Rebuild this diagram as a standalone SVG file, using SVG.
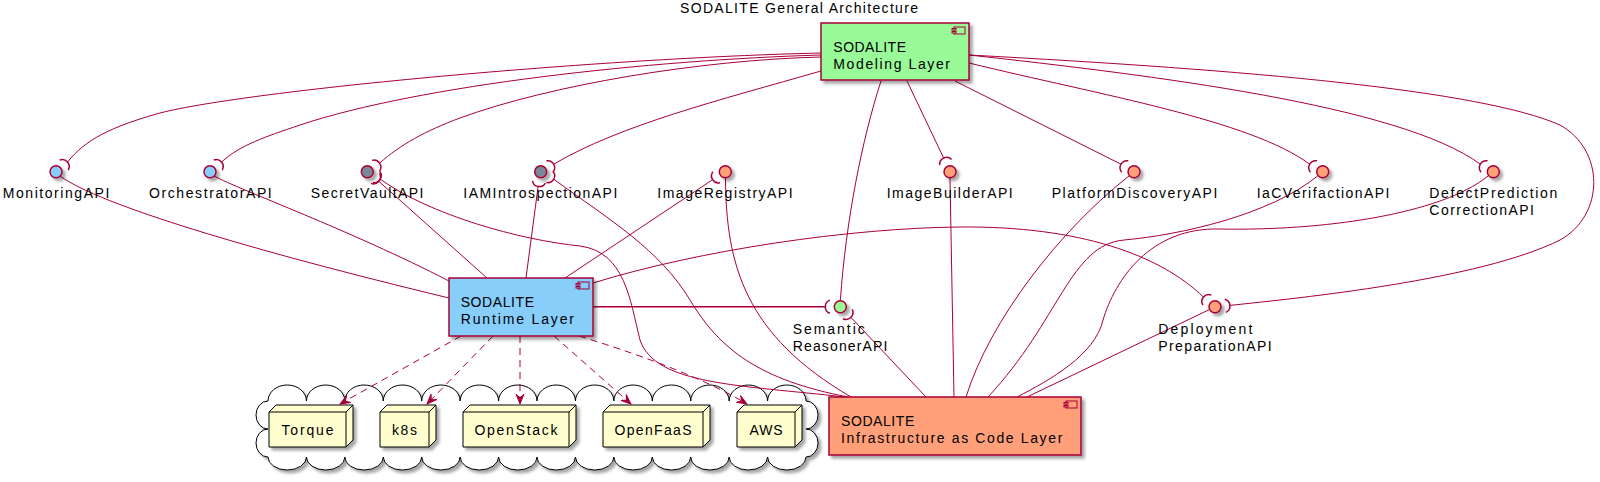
<svg xmlns="http://www.w3.org/2000/svg" xmlns:xlink="http://www.w3.org/1999/xlink" width="1600" height="482" viewBox="0 0 1600 482">
<defs>
<style>
.t{font-family:"Liberation Sans",Arial,sans-serif;font-size:14px;fill:#000}
.box{stroke:#A80036;stroke-width:1.5}
.ic{stroke:#A80036;stroke-width:1}
.ifc{stroke:#A80036;stroke-width:1.5}
.ln{fill:none;stroke:#A80036;stroke-width:1}
.dash{fill:none;stroke:#A80036;stroke-width:1;stroke-dasharray:7,5}
.sock{fill:none;stroke:#A80036;stroke-width:1.5}
.node{fill:#FEFECE;stroke:#000;stroke-width:1}
.nl{fill:none;stroke:#000;stroke-width:1}
.cloud{fill:#fff;stroke:#000;stroke-width:1}
</style>
<filter id="sh" filterUnits="userSpaceOnUse" x="0" y="0" width="1600" height="482">
<feGaussianBlur in="SourceAlpha" stdDeviation="1.8"/>
<feOffset dx="3" dy="3" result="o"/>
<feFlood flood-color="#000" flood-opacity="0.35"/>
<feComposite in2="o" operator="in"/>
<feMerge><feMergeNode/><feMergeNode in="SourceGraphic"/></feMerge>
</filter>
<marker id="ah" markerUnits="userSpaceOnUse" markerWidth="12" markerHeight="10" refX="10" refY="5" orient="auto" viewBox="0 0 12 10"><path d="M0,1 L10,5 L0,9 L4,5 Z" fill="#A80036" stroke="#A80036" stroke-width="1"/></marker>
<path id="sock" d="M10.394,-6.578 A7,7 0 0 1 10.394,6.578"/>
</defs>
<rect width="1600" height="482" fill="#fff"/>
<text class="t" x="680" y="13" textLength="238" lengthAdjust="spacing">SODALITE General Architecture</text>

<g id="cloud">
<path class="cloud" filter="url(#sh)" d="M268,401 a19.215,16 0 0 1 38.43,0 a19.215,16 0 0 1 38.43,0 a19.215,16 0 0 1 38.43,0 a19.215,16 0 0 1 38.43,0 a19.215,16 0 0 1 38.43,0 a19.215,16 0 0 1 38.43,0 a19.215,16 0 0 1 38.43,0 a19.215,16 0 0 1 38.43,0 a19.215,16 0 0 1 38.43,0 a19.215,16 0 0 1 38.43,0 a19.215,16 0 0 1 38.43,0 a19.215,16 0 0 1 38.43,0 a19.215,16 0 0 1 38.43,0 a19.215,16 0 0 1 38.43,0 a12,14 0 0 1 0,28 a12,14 0 0 1 0,28 a19.215,13 0 0 1 -38.43,0 a19.215,13 0 0 1 -38.43,0 a19.215,13 0 0 1 -38.43,0 a19.215,13 0 0 1 -38.43,0 a19.215,13 0 0 1 -38.43,0 a19.215,13 0 0 1 -38.43,0 a19.215,13 0 0 1 -38.43,0 a19.215,13 0 0 1 -38.43,0 a19.215,13 0 0 1 -38.43,0 a19.215,13 0 0 1 -38.43,0 a19.215,13 0 0 1 -38.43,0 a19.215,13 0 0 1 -38.43,0 a19.215,13 0 0 1 -38.43,0 a19.215,13 0 0 1 -38.43,0 a12,14 0 0 1 0,-28 a12,14 0 0 1 0,-28 Z"/>
</g>

<g id="node-torque">
<path class="node" filter="url(#sh)" d="M269,412 L276,405 L353,405 L353,440 L346,447 L269,447 Z"/>
<path class="nl" d="M269,412 L346,412 L353,405 M346,412 L346,447"/>
<text class="t" x="307.5" y="435" text-anchor="middle" textLength="52" lengthAdjust="spacing">Torque</text>
</g>
<g id="node-k8s">
<path class="node" filter="url(#sh)" d="M380,412 L387,405 L436,405 L436,440 L429,447 L380,447 Z"/>
<path class="nl" d="M380,412 L429,412 L436,405 M429,412 L429,447"/>
<text class="t" x="404.5" y="435" text-anchor="middle" textLength="25" lengthAdjust="spacing">k8s</text>
</g>
<g id="node-openstack">
<path class="node" filter="url(#sh)" d="M463,412 L470,405 L576,405 L576,440 L569,447 L463,447 Z"/>
<path class="nl" d="M463,412 L569,412 L576,405 M569,412 L569,447"/>
<text class="t" x="516" y="435" text-anchor="middle" textLength="83" lengthAdjust="spacing">OpenStack</text>
</g>
<g id="node-openfaas">
<path class="node" filter="url(#sh)" d="M603,412 L610,405 L710,405 L710,440 L703,447 L603,447 Z"/>
<path class="nl" d="M603,412 L703,412 L710,405 M703,412 L703,447"/>
<text class="t" x="653" y="435" text-anchor="middle" textLength="77" lengthAdjust="spacing">OpenFaaS</text>
</g>
<g id="node-aws">
<path class="node" filter="url(#sh)" d="M737,412 L744,405 L802,405 L802,440 L795,447 L737,447 Z"/>
<path class="nl" d="M737,412 L795,412 L802,405 M795,412 L795,447"/>
<text class="t" x="766" y="435" text-anchor="middle" textLength="33" lengthAdjust="spacing">AWS</text>
</g>

<g id="connectors">
<path class="ln" d="M821,53 C600,58 250,90 160,113 C110,127 85,140 67.5,162.1"/>
<path class="ln" d="M821,55 C650,60 420,85 300,125 C265,137 240,145 221.5,162.1"/>
<path class="ln" d="M821,57 C700,60 550,85 460,118 C425,131 400,145 379.6,163.1"/>
<path class="ln" d="M821,71 C720,100 620,125 553.7,164.2"/>
<path class="ln" d="M907,81 L943.7,158.1"/>
<path class="ln" d="M955,81 L1121,164.2"/>
<path class="ln" d="M969,63 C1100,95 1250,120 1309.7,164.2"/>
<path class="ln" d="M969,55 C1150,75 1400,105 1480.3,164.2"/>
<path class="ln" d="M881,81 C862,140 846,220 840.3,300.7"/>
<path class="ln" d="M969,55 C1250,70 1480,90 1560,125 C1605,150 1605,215 1560,240 C1480,280 1300,298 1229.9,305.4"/>
<path class="ln" d="M60,176 C100,205 250,250 449,298"/>
<path class="ln" d="M214,176 C240,190 350,230 449,281"/>
<path class="ln" d="M378.8,181.3 L487,278"/>
<path class="ln" d="M538.1,186.5 L526,278"/>
<path class="ln" d="M712.6,179.7 L565,278"/>
<path class="ln" style="stroke-width:1.5" d="M593,306.7 L825.3,306.7"/>
<path class="ln" d="M593,283 C700,250 850,228 960,227 C1080,226 1160,255 1203.5,297.1"/>
<path class="ln" d="M380.3,179.2 C430,215 520,240 580,246 C625,252 630,300 640,340 C655,385 740,385 845,397"/>
<path class="ln" d="M553.7,179.2 C610,220 660,250 690,300 C720,350 760,380 848,397"/>
<path class="ln" d="M725.5,178 C726,265 745,335 851,397"/>
<path class="ln" d="M850.9,317.3 L926,397"/>
<path class="ln" d="M950,178 L954,397"/>
<path class="ln" d="M1129,176 C1060,230 990,320 966,397"/>
<path class="ln" d="M1317.5,176 C1270,215 1180,235 1124,240 C1070,245 1060,320 988,397"/>
<path class="ln" d="M1488,176 C1440,215 1320,231 1220,229 C1150,227 1115,280 1103,320 C1095,355 1050,380 1017,397"/>
<path class="ln" d="M1209.5,309.5 L1027,397"/>
<path class="dash" marker-end="url(#ah)" d="M461,336 L340,404"/>
<path class="dash" marker-end="url(#ah)" d="M493,336 L427,404"/>
<path class="dash" marker-end="url(#ah)" d="M520,336 L520,404"/>
<path class="dash" marker-end="url(#ah)" d="M554,336 L631,404"/>
<path class="dash" marker-end="url(#ah)" d="M579,336 Q690,370 747,404"/>
<use xlink:href="#sock" class="sock" transform="translate(56,171.7) rotate(-40)"/>
<use xlink:href="#sock" class="sock" transform="translate(210,171.7) rotate(-40)"/>
<use xlink:href="#sock" class="sock" transform="translate(367.3,171.7) rotate(-35)"/>
<use xlink:href="#sock" class="sock" transform="translate(367.3,171.7) rotate(30)"/>
<use xlink:href="#sock" class="sock" transform="translate(367.3,171.7) rotate(40)"/>
<use xlink:href="#sock" class="sock" transform="translate(540.7,171.7) rotate(-30)"/>
<use xlink:href="#sock" class="sock" transform="translate(540.7,171.7) rotate(30)"/>
<use xlink:href="#sock" class="sock" transform="translate(540.7,171.7) rotate(100)"/>
<use xlink:href="#sock" class="sock" transform="translate(725.3,171.7) rotate(148)"/>
<use xlink:href="#sock" class="sock" transform="translate(950,171.7) rotate(-115)"/>
<use xlink:href="#sock" class="sock" transform="translate(1134,171.7) rotate(-150)"/>
<use xlink:href="#sock" class="sock" transform="translate(1322.7,171.7) rotate(-150)"/>
<use xlink:href="#sock" class="sock" transform="translate(1493.3,171.7) rotate(-150)"/>
<use xlink:href="#sock" class="sock" transform="translate(840.3,306.7) rotate(180)"/>
<use xlink:href="#sock" class="sock" transform="translate(840.3,306.7) rotate(45)"/>
<use xlink:href="#sock" class="sock" transform="translate(1215,306.7) rotate(-5)"/>
<use xlink:href="#sock" class="sock" transform="translate(1215,306.7) rotate(-140)"/>
</g>

<g id="modeling-layer">
<rect class="box" filter="url(#sh)" x="821" y="23" width="148" height="57" fill="#98FB98"/>
<rect class="ic" x="954" y="27" width="11" height="7" fill="#98FB98"/>
<rect class="ic" x="952" y="28.5" width="4" height="1.5" fill="#98FB98"/>
<rect class="ic" x="952" y="31.5" width="4" height="1.5" fill="#98FB98"/>
<text class="t" x="833.3" y="51.5" textLength="72.7" lengthAdjust="spacing">SODALITE</text>
<text class="t" x="833.3" y="68.5" textLength="116.7" lengthAdjust="spacing">Modeling Layer</text>
</g>
<g id="runtime-layer">
<rect class="box" filter="url(#sh)" x="449" y="278" width="144" height="58" fill="#87CEFA"/>
<rect class="ic" x="578" y="282" width="11" height="7" fill="#87CEFA"/>
<rect class="ic" x="576" y="283.5" width="4" height="1.5" fill="#87CEFA"/>
<rect class="ic" x="576" y="286.5" width="4" height="1.5" fill="#87CEFA"/>
<text class="t" x="460.7" y="306.5" textLength="73.3" lengthAdjust="spacing">SODALITE</text>
<text class="t" x="460.7" y="323.5" textLength="113.3" lengthAdjust="spacing">Runtime Layer</text>
</g>
<g id="iac-layer">
<rect class="box" filter="url(#sh)" x="829" y="397" width="252" height="58" fill="#FFA07A"/>
<rect class="ic" x="1066" y="401" width="11" height="7" fill="#FFA07A"/>
<rect class="ic" x="1064" y="402.5" width="4" height="1.5" fill="#FFA07A"/>
<rect class="ic" x="1064" y="405.5" width="4" height="1.5" fill="#FFA07A"/>
<text class="t" x="841" y="426" textLength="73.3" lengthAdjust="spacing">SODALITE</text>
<text class="t" x="841" y="443" textLength="221.3" lengthAdjust="spacing">Infrastructure as Code Layer</text>
</g>

<g id="if-monitoring">
<circle class="ifc" filter="url(#sh)" cx="56" cy="171.7" r="6" fill="#87CEFA"/>
<text class="t" x="2.7" y="198" textLength="106.7" lengthAdjust="spacing">MonitoringAPI</text>
</g>
<g id="if-orchestrator">
<circle class="ifc" filter="url(#sh)" cx="210" cy="171.7" r="6" fill="#87CEFA"/>
<text class="t" x="149" y="198" textLength="122.7" lengthAdjust="spacing">OrchestratorAPI</text>
</g>
<g id="if-secretvault">
<circle class="ifc" filter="url(#sh)" cx="367.3" cy="171.7" r="6" fill="#778899"/>
<text class="t" x="310.8" y="198" textLength="112.7" lengthAdjust="spacing">SecretVaultAPI</text>
</g>
<g id="if-iamintrospection">
<circle class="ifc" filter="url(#sh)" cx="540.7" cy="171.7" r="6" fill="#778899"/>
<text class="t" x="463.3" y="198" textLength="154" lengthAdjust="spacing">IAMIntrospectionAPI</text>
</g>
<g id="if-imageregistry">
<circle class="ifc" filter="url(#sh)" cx="725.3" cy="171.7" r="6" fill="#FFA07A"/>
<text class="t" x="657.3" y="198" textLength="135.3" lengthAdjust="spacing">ImageRegistryAPI</text>
</g>
<g id="if-imagebuilder">
<circle class="ifc" filter="url(#sh)" cx="950" cy="171.7" r="6" fill="#FFA07A"/>
<text class="t" x="886.7" y="198" textLength="126" lengthAdjust="spacing">ImageBuilderAPI</text>
</g>
<g id="if-platformdiscovery">
<circle class="ifc" filter="url(#sh)" cx="1134" cy="171.7" r="6" fill="#FFA07A"/>
<text class="t" x="1051.7" y="198" textLength="165.7" lengthAdjust="spacing">PlatformDiscoveryAPI</text>
</g>
<g id="if-iacverification">
<circle class="ifc" filter="url(#sh)" cx="1322.7" cy="171.7" r="6" fill="#FFA07A"/>
<text class="t" x="1256.7" y="198" textLength="132.7" lengthAdjust="spacing">IaCVerifactionAPI</text>
</g>
<g id="if-defectprediction">
<circle class="ifc" filter="url(#sh)" cx="1493.3" cy="171.7" r="6" fill="#FFA07A"/>
<text class="t" x="1429.3" y="198" textLength="128" lengthAdjust="spacing">DefectPrediction</text>
<text class="t" x="1429.3" y="214.5" textLength="104.7" lengthAdjust="spacing">CorrectionAPI</text>
</g>
<g id="if-semanticreasoner">
<circle class="ifc" filter="url(#sh)" cx="840.3" cy="306.7" r="6" fill="#98FB98"/>
<text class="t" x="792.7" y="334" textLength="72" lengthAdjust="spacing">Semantic</text>
<text class="t" x="792.7" y="350.5" textLength="94.7" lengthAdjust="spacing">ReasonerAPI</text>
</g>
<g id="if-deployment">
<circle class="ifc" filter="url(#sh)" cx="1215" cy="306.7" r="6" fill="#FFA07A"/>
<text class="t" x="1158.3" y="334" textLength="94" lengthAdjust="spacing">Deployment</text>
<text class="t" x="1158.3" y="350.5" textLength="113.3" lengthAdjust="spacing">PreparationAPI</text>
</g>
</svg>
